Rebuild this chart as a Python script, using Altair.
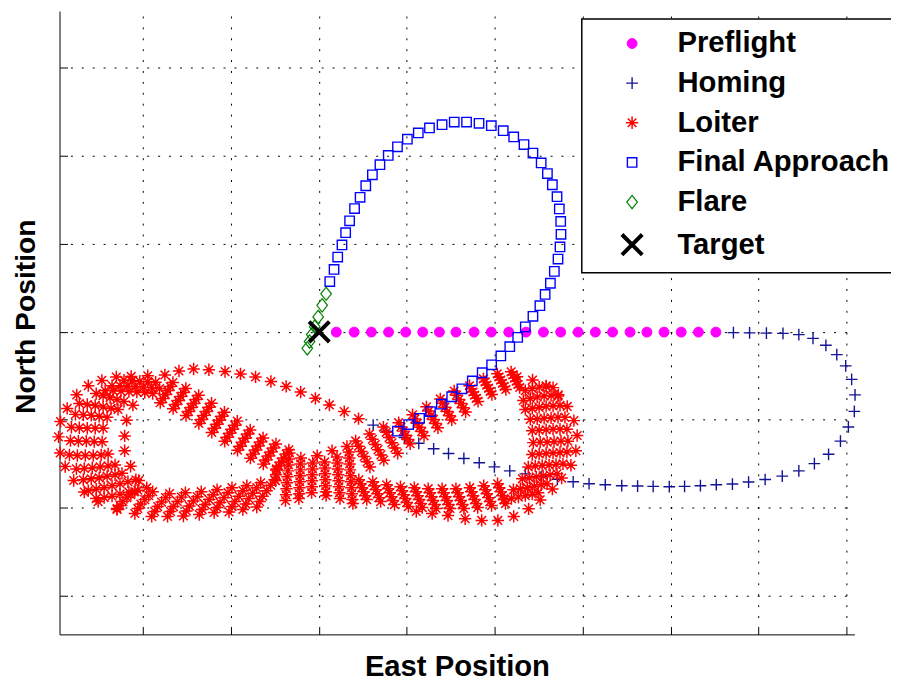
import altair as alt
import pandas as pd

# ---------------- categories & styles ----------------
PHASES = ["Preflight", "Homing", "Loiter", "Final Approach", "Flare", "Target"]
COLORS = ["#ff00ff", "#141494", "#ff0000", "#0000ff", "#008000", "#000000"]
FILLS = ["#ff00ff", "transparent", "transparent", "transparent", "transparent", "transparent"]
SHAPES = [
    "circle",
    "M-1,0L1,0M0,-1L0,1",
    "M-1,0L1,0M0,-1L0,1M-0.7,-0.7L0.7,0.7M-0.7,0.7L0.7,-0.7",
    "square",
    "M0,-1L0.8,0L0,1L-0.8,0Z",
    "M-1,-1L1,1M-1,1L1,-1",
]
SIZES = [100, 140, 155, 90, 180, 420]
WIDTHS = [1, 1.4, 1.5, 1.4, 1.2, 4]

# grid (tick) positions, metres
GRID_E = [144.3, 233.0, 321.7, 410.4, 499.1, 587.9, 676.6, 765.3, 854.0]
GRID_N = [102.0, 190.8, 279.6, 368.3, 457.1, 545.9, 634.7]

# ---------------- data (East, North) ----------------
PREFLIGHT_E = [339.3, 357.3, 374.7, 392.0, 409.3, 426.5, 443.3, 460.0, 478.3, 495.7, 513.3, 530.7,
               548.3, 565.7, 583.3, 600.7, 618.0, 635.7, 652.7, 670.0, 687.3, 704.7, 722.3]
PREFLIGHT_N = [368.0] * len(PREFLIGHT_E)

HOMING = [(740, 367.5), (756.3, 367.3), (773.3, 367), (790, 366.7), (806, 365.5), (820.3, 361.7),
          (833.3, 354.7), (844.3, 345.3), (853.3, 334), (859.3, 320.3), (862.7, 304.7), (862, 288),
          (856, 272.3), (848, 258), (836, 244.7), (821.7, 235.3), (806, 228), (789.3, 222.7),
          (772, 219.3), (755.3, 216.7), (739, 214.7), (722.7, 214), (706.7, 213), (690.7, 212.3),
          (675.3, 212), (659, 212.3), (643.3, 212.7), (627.3, 213), (610.7, 214), (594.3, 215),
          (578.3, 217), (562.3, 219.5), (546, 222), (530, 225), (514.3, 228), (498.8, 232),
          (483.5, 236.2), (468, 240.5), (452.5, 245.5), (437.5, 250.3), (422.5, 255.8), (408, 261.5),
          (390.3, 268), (376.5, 274.2)]

LOITER_ENTRY = [(361.7, 280.7), (347.3, 287.8), (332.3, 294.5), (318.2, 301.2), (303.3, 307.5),
                (288.7, 313.2), (273.3, 318.2), (257.8, 322.8), (242.6, 325.8), (227.0, 328.2),
                (210.7, 330.0), (195.3, 330.8), (180.5, 328.8), (166.3, 324.8), (149.0, 324.0),
                (132.3, 323.3), (117.3, 322.7), (102.7, 319.3), (89.0, 314.0), (77.3, 304.7),
                (67.7, 291.0), (61.0, 277.7), (59.0, 262.3), (60.7, 246.0), (65.7, 232.3),
                (74.3, 218.3), (85.0, 206.7), (99.0, 197.0), (118.0, 190.0),
                (320.0, 243.3), (335.0, 248.3), (350.0, 252.7)]

LOITER_WEST = [(125, 319.5), (133, 319), (141, 318.5), (149, 318), (157, 317.5),
               (113, 314), (121, 314), (129, 313.5), (137, 313), (145, 312.5), (153, 312), (161, 311),
               (106, 309), (114, 309), (122, 308.5), (130, 308), (138, 307.5), (146, 307), (154, 306),
               (97, 306), (104, 304), (111, 302), (118, 300), (125, 298),
               (80, 296), (88, 295), (96, 294), (104, 292.5), (112, 291), (119, 290),
               (76, 285), (84, 284.5), (92, 284), (100, 283), (108, 282),
               (72, 272), (80, 271.5), (88, 271), (96, 271), (104, 271),
               (71, 258.5), (79, 258), (87, 258), (95, 257.5), (103, 257.5),
               (70, 244), (78, 243.5), (86, 243.5), (94, 243.5), (102, 244), (109, 245),
               (77, 230), (85, 230.5), (93, 231), (101, 232), (109, 233), (116, 234),
               (84, 219), (92, 220), (100, 221), (108, 222.5), (116, 224), (123, 225.5),
               (89, 208), (97, 209.5), (105, 211), (113, 213), (121, 215), (129, 217), (137, 219),
               (97, 200), (105, 201), (113, 202.5), (121, 204.5), (130, 206.5), (139, 208.5), (148, 211),
               (134, 294.3), (127.7, 279), (125.7, 263.3), (125.7, 248.3), (131.7, 232.7), (140, 218.3)]

LOITER_SOUTHWEST = [(118, 189), (121, 193), (124, 197), (128, 201), (132, 204), (136, 207),
                    (136, 185), (139, 190), (142, 194.5), (146, 199), (150, 203), (154, 207),
                    (153, 182), (156, 187), (159, 192), (163, 196.5), (167, 201), (171, 205),
                    (169, 182), (172, 187), (175, 192), (179, 197), (183, 201.5), (187, 206),
                    (185, 182.5), (188, 187.5), (191, 192.5), (195, 197.5), (199, 202), (203, 207),
                    (201, 184), (204, 189), (207, 194), (211, 199), (215, 204), (219, 209),
                    (216, 186), (219, 191), (222, 196), (226, 201), (230, 206), (234, 211),
                    (231, 186.5), (234, 192), (237, 197), (241, 202.5), (245, 208), (249, 213),
                    (245, 189), (248, 194.5), (251, 200), (255, 205.5), (259, 211), (263, 216),
                    (259, 191.5), (262, 197), (265, 202.5), (269, 208), (273, 213.5), (277, 219)]

LOITER_BAND_A = [(161.6, 296.8), (164.2, 300.9), (166.7, 305), (169.3, 309), (171.8, 313.1), (174.4, 317.2),
                 (174.6, 290.8), (177.2, 294.9), (179.7, 299), (182.3, 303), (184.8, 307.1), (187.4, 311.2),
                 (187.6, 283.8), (190.2, 287.9), (192.7, 292), (195.3, 296), (197.8, 300.1), (200.4, 304.2),
                 (200.6, 275.8), (203.2, 279.9), (205.7, 284), (208.3, 288), (210.8, 292.1), (213.4, 296.2),
                 (213.6, 266.8), (216.2, 270.9), (218.7, 275), (221.3, 279), (223.8, 283.1), (226.4, 287.2),
                 (226.6, 257.8), (229.2, 261.9), (231.7, 266), (234.3, 270), (236.8, 274.1), (239.4, 278.2),
                 (239.6, 248.8), (242.2, 252.9), (244.7, 257), (247.3, 261), (249.8, 265.1), (252.4, 269.2),
                 (252.6, 240.8), (255.2, 244.9), (257.7, 249), (260.3, 253), (262.8, 257.1), (265.4, 261.2),
                 (265.6, 234.8), (268.2, 238.9), (270.7, 243), (273.3, 247), (275.8, 251.1), (278.4, 255.2),
                 (278.6, 228.8), (281.2, 232.9), (283.7, 237), (286.3, 241), (288.8, 245.1), (291.4, 249.2)]

LOITER_CROSSING = [(279, 230), (278.5, 224), (278, 218),
                   (292, 246), (291.5, 240), (291, 234), (290.5, 228), (290, 222), (289.5, 216),
                   (289, 210), (288.5, 204), (288, 198),
                   (303.5, 241), (303.2, 235), (303, 229), (302.7, 223), (302.4, 217), (302.1, 211),
                   (301.8, 205), (301.5, 200),
                   (315.5, 236), (315.3, 230), (315, 224), (314.8, 218), (314.6, 212), (314.4, 206),
                   (327.5, 237), (327.8, 231), (328, 225), (328.3, 219), (328.5, 213), (328.8, 207), (329, 203),
                   (340, 242), (340.4, 236), (340.8, 230), (341.2, 224), (341.6, 218), (342, 212),
                   (342.5, 206), (343, 200),
                   (352, 247), (352.4, 241), (352.8, 235), (353.2, 229), (353.6, 223), (354, 217),
                   (354.5, 211), (355, 205), (355.5, 199), (356, 195)]

LOITER_BAND_B = [(358.8, 258.2), (361.7, 252.9), (364.6, 247.6), (367.4, 242.4), (370.3, 237.1), (373.2, 231.8),
                 (372.8, 265.2), (375.7, 259.9), (378.6, 254.6), (381.4, 249.4), (384.3, 244.1), (387.2, 238.8),
                 (386.8, 272.2), (389.7, 266.9), (392.6, 261.6), (395.4, 256.4), (398.3, 251.1), (401.2, 245.8),
                 (402.2, 276.6), (404.5, 272.3), (406.8, 268.1), (409.2, 263.9), (411.5, 259.7), (413.8, 255.4),
                 (416.2, 284.6), (418.5, 280.3), (420.8, 276.1), (423.2, 271.9), (425.5, 267.7), (427.8, 263.4),
                 (430.2, 292.6), (432.5, 288.3), (434.8, 284.1), (437.2, 279.9), (439.5, 275.7), (441.8, 271.4),
                 (444.2, 300.6), (446.5, 296.3), (448.8, 292.1), (451.2, 287.9), (453.5, 283.7), (455.8, 279.4),
                 (458.2, 308.6), (460.5, 304.3), (462.8, 300.1), (465.2, 295.9), (467.5, 291.7), (469.8, 287.4),
                 (473.7, 313.9), (475.4, 310.8), (477.1, 307.6), (478.9, 304.4), (480.6, 301.2), (482.3, 298.1),
                 (487.7, 320.9), (489.4, 317.8), (491.1, 314.6), (492.9, 311.4), (494.6, 308.2), (496.3, 305.1),
                 (501.7, 325.9), (503.4, 322.8), (505.1, 319.6), (506.9, 316.4), (508.6, 313.2), (510.3, 310.1),
                 (515.7, 327.9), (517.4, 324.8), (519.1, 321.6), (520.9, 318.4), (522.6, 315.2), (524.3, 312.1)]

LOITER_EAST = [(530, 309), (537, 311), (544, 312.5), (551, 313), (558, 312),
               (528, 299), (535, 301), (542, 302.5), (549, 303.5), (556, 304), (563, 303.5),
               (530, 290), (537, 291), (544, 292), (551, 293), (558, 293.5), (565, 294),
               (535, 280), (542, 280.5), (549, 281), (556, 281.5), (563, 282), (570, 282),
               (537, 268.5), (544, 269), (551, 269.5), (558, 270), (565, 270), (572, 270),
               (538, 256.5), (545, 257), (552, 257), (559, 257.5), (566, 258), (573, 258),
               (537, 244.5), (544, 245), (551, 245.5), (558, 246), (565, 246.5), (572, 247),
               (533, 232), (540, 233), (547, 233.5), (554, 234), (561, 234.5), (568, 235),
               (527, 220), (534, 221), (541, 222), (548, 223), (555, 224), (562, 225),
               (518, 209), (525, 210), (532, 211), (539, 212.5), (546, 214), (552, 215),
               (509, 199), (516, 200), (523, 201.5), (530, 203), (537, 204.5), (543, 206),
               (521.7, 323), (537.3, 319.7), (551, 313.7), (563.3, 304.7), (572.3, 293), (579, 278.7),
               (582.3, 263.7), (581, 248.3), (576, 233.7), (566.7, 220.7), (557.3, 209.7), (545, 198.7),
               (533.3, 189.7), (518.3, 182), (502.3, 178), (486, 178), (469.3, 179.7), (452, 183),
               (436, 185), (420, 187)]

LOITER_BAND_C = [(362, 219), (363.6, 215), (365.2, 211), (366.8, 207), (368.4, 203), (370, 199),
                 (376, 217), (377.6, 213), (379.2, 209), (380.8, 205), (382.4, 201), (384, 197),
                 (390, 214), (391.6, 210), (393.2, 206), (394.8, 202), (396.4, 198), (398, 194),
                 (404, 212), (405.6, 208), (407.2, 204), (408.8, 200), (410.4, 196), (412, 192),
                 (418, 211), (419.6, 207), (421.2, 203), (422.8, 199), (424.4, 195), (426, 191),
                 (432, 210), (433.6, 206), (435.2, 202), (436.8, 198), (438.4, 194), (440, 190),
                 (446, 210), (447.6, 206), (449.2, 202), (450.8, 198), (452.4, 194), (454, 190),
                 (460, 210), (461.6, 206), (463.2, 202), (464.8, 198), (466.4, 194), (468, 190),
                 (474, 211), (475.6, 207), (477.2, 203), (478.8, 199), (480.4, 195), (482, 191),
                 (488, 213), (489.6, 209), (491.2, 205), (492.8, 201), (494.4, 197), (496, 193),
                 (502, 215), (503.6, 211), (505.2, 207), (506.8, 203), (508.4, 199), (510, 195)]

FINAL_APPROACH = [(401, 268), (412.3, 274.7), (423.3, 281), (434.3, 287.8), (445.3, 295.3), (455.7, 302.8),
                  (466, 310.8), (476.5, 318.8), (486.5, 327), (496, 335), (505.3, 344), (514.3, 353.3),
                  (522.3, 362.7), (530, 373.3), (537.7, 384), (544.7, 394.7), (550, 406), (555.3, 417.3),
                  (559.3, 429.3), (563, 441.7), (565, 454), (566, 466.7), (565.7, 479.7), (564.3, 492.3),
                  (562, 504.7), (557.3, 516.7), (552.3, 528), (546, 538.7), (537.7, 548.7), (528.7, 557.3),
                  (518.3, 565), (507.7, 571.3), (495.7, 576.3), (483.3, 578.7), (470.7, 580), (458.3, 580),
                  (446, 577.3), (433.3, 574), (422, 569), (411, 562.7), (401, 555), (391.7, 546.3),
                  (383.3, 537), (375.7, 526.7), (369, 515.7), (363.3, 504), (357.7, 492.7), (352.7, 480.3),
                  (348.7, 468.3), (345, 456), (340.7, 443.7), (337, 431.3), (332.7, 419)]

FLARE = [(329, 406.7), (325, 395), (321, 383.3), (317.5, 373.5), (314.5, 365.5), (312.3, 358.5), (310, 351.7)]

TARGET = [(322, 368.3)]

# ---------------- table ----------------
LOITER = (LOITER_ENTRY + LOITER_WEST + LOITER_SOUTHWEST + LOITER_BAND_A + LOITER_CROSSING
          + LOITER_BAND_B + LOITER_EAST + LOITER_BAND_C)
rows = [(e, n, "Preflight") for e, n in zip(PREFLIGHT_E, PREFLIGHT_N)]
rows += [(e, n, "Homing") for e, n in HOMING]
rows += [(e, n, "Loiter") for e, n in LOITER]
rows += [(e, n, "Final Approach") for e, n in FINAL_APPROACH]
rows += [(e, n, "Flare") for e, n in FLARE]
rows += [(e, n, "Target") for e, n in TARGET]
df = pd.DataFrame(rows, columns=["East", "North", "Phase"])

# dotted grid lines that begin / end with a short solid segment (inward tick marks)
DASH_H = [8, 3] + [2, 9] * 72
DASH_V = [0, 5] + [2, 9] * 56 + [8, 100]

FONT = "Liberation Sans"

legend = alt.Legend(
    title=None, orient="none", legendX=527, legendY=8,
    fillColor="white", strokeColor="black", padding=10,
    labelFont=FONT, labelFontSize=29.5, labelFontWeight="bold", labelColor="black",
    labelLimit=500, rowPadding=9, symbolOffset=26, labelOffset=31, symbolOpacity=1,
)

x_axis = alt.Axis(
    values=GRID_E, grid=True, gridDash=DASH_V, gridColor="black", gridWidth=1, gridOpacity=1,
    ticks=False, labels=False, domain=True, domainColor="black", domainWidth=1,
    title="East Position", titleFont=FONT, titleFontSize=29.5, titleFontWeight="bold",
    titleColor="black", titleX=401, titleY=41, titleBaseline="alphabetic", titleAlign="center",
)
y_axis = alt.Axis(
    values=GRID_N, grid=True, gridDash=DASH_H, gridColor="black", gridWidth=1, gridOpacity=1,
    ticks=False, labels=False, domain=True, domainColor="black", domainWidth=1,
    title="North Position", titleFont=FONT, titleFontSize=28.5, titleFontWeight="bold",
    titleColor="black", titleX=-25, titleY=308, titleAngle=270, titleBaseline="alphabetic",
    titleAlign="center",
)

chart = alt.Chart(df).mark_point(opacity=1, filled=True).encode(
    x=alt.X("East:Q", scale=alt.Scale(domain=[60, 862], nice=False, zero=False), axis=x_axis),
    y=alt.Y("North:Q", scale=alt.Scale(domain=[63, 692], nice=False, zero=False), axis=y_axis),
    shape=alt.Shape("Phase:N", scale=alt.Scale(domain=PHASES, range=SHAPES), legend=legend),
    stroke=alt.Stroke("Phase:N", scale=alt.Scale(domain=PHASES, range=COLORS), legend=legend),
    fill=alt.Fill("Phase:N", scale=alt.Scale(domain=PHASES, range=FILLS), legend=legend),
    size=alt.Size("Phase:N", scale=alt.Scale(type="ordinal", domain=PHASES, range=SIZES), legend=legend),
    strokeWidth=alt.StrokeWidth("Phase:N", scale=alt.Scale(type="ordinal", domain=PHASES, range=WIDTHS),
                                legend=legend),
).properties(
    width=802, height=629,
    padding={"left": 52, "top": 0, "right": 37, "bottom": 47},
    autosize=alt.AutoSizeParams(type="none"),
    background="white",
).configure_view(strokeWidth=0).configure_legend(strokeWidth=1.5)

chart.save("out.html", embed_options={"renderer": "svg", "actions": False})
